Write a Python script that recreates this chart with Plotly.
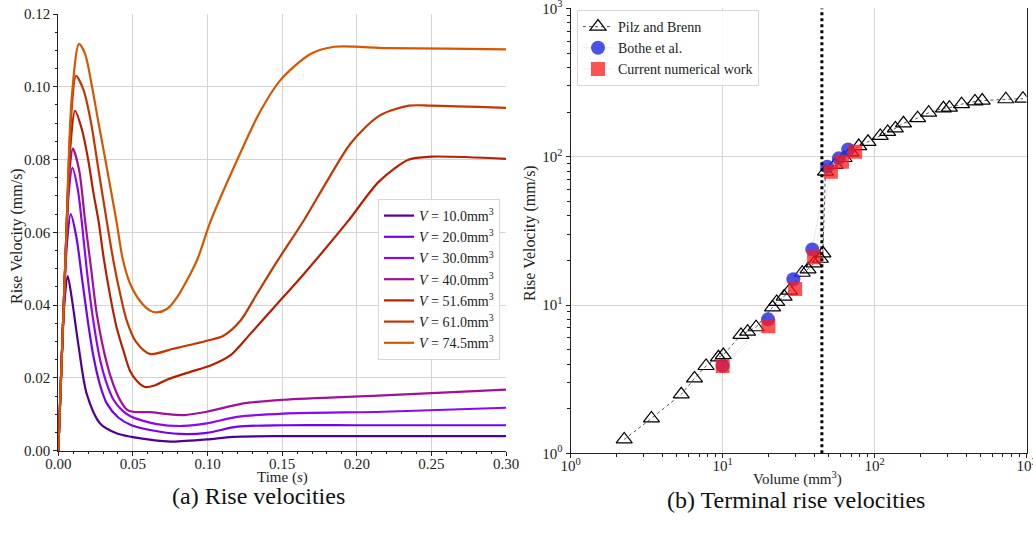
import plotly.graph_objects as go

# ---------------- (a) Rise velocities ----------------
volumes = [10.0, 20.0, 30.0, 40.0, 51.6, 61.0, 74.5]
colors = ["rgb(81,0,150)", "rgb(114,2,243)", "rgb(140,7,243)", "rgb(161,16,150)",
          "rgb(180,32,0)", "rgb(198,55,0)", "rgb(213,87,0)"]

t_10 = [0, 0.002, 0.004, 0.0063, 0.009, 0.0134, 0.019, 0.028, 0.039, 0.049, 0.060, 0.068, 0.077, 0.0996, 0.117, 0.15, 0.20, 0.25, 0.30]
v_10 = [0, 0.022, 0.040, 0.048, 0.042, 0.0293, 0.0157, 0.0075, 0.0048, 0.0038, 0.0031, 0.0027, 0.0025, 0.0031, 0.0038, 0.0040, 0.0040, 0.0040, 0.0040]

t_20 = [0, 0.002, 0.004, 0.006, 0.0083, 0.012, 0.016, 0.020, 0.0235, 0.028, 0.0325, 0.040, 0.049, 0.0615, 0.0817, 0.0996, 0.12, 0.151, 0.20, 0.25, 0.30]
v_20 = [0, 0.022, 0.043, 0.058, 0.065, 0.059, 0.047, 0.035, 0.026, 0.018, 0.013, 0.0092, 0.0070, 0.0057, 0.0046, 0.0049, 0.0066, 0.0070, 0.0070, 0.0070, 0.0070]

t_30 = [0, 0.002, 0.005, 0.007, 0.0094, 0.013, 0.0157, 0.019, 0.023, 0.028, 0.032, 0.037, 0.043, 0.049, 0.066, 0.084, 0.0996, 0.12, 0.151, 0.218, 0.30]
v_30 = [0, 0.022, 0.054, 0.071, 0.0777, 0.072, 0.063, 0.050, 0.037, 0.025, 0.019, 0.014, 0.011, 0.0093, 0.0073, 0.0068, 0.0075, 0.0093, 0.0102, 0.0107, 0.0118]

t_40 = [0, 0.002, 0.005, 0.0075, 0.0098, 0.014, 0.018, 0.022, 0.026, 0.0325, 0.037, 0.0414, 0.046, 0.050, 0.0615, 0.072, 0.084, 0.0996, 0.124, 0.151, 0.218, 0.30]
v_40 = [0, 0.022, 0.055, 0.077, 0.083, 0.077, 0.063, 0.050, 0.037, 0.024, 0.018, 0.0139, 0.0113, 0.0107, 0.0106, 0.0101, 0.0098, 0.0107, 0.0130, 0.0140, 0.0152, 0.0168]

t_52 = [0, 0.002, 0.005, 0.008, 0.0112, 0.016, 0.020, 0.0235, 0.027, 0.0304, 0.035, 0.039, 0.044, 0.048, 0.053, 0.058, 0.065, 0.0728, 0.088, 0.102, 0.115, 0.1287, 0.1466, 0.1644, 0.194, 0.215, 0.235, 0.25, 0.30]
v_52 = [0, 0.022, 0.055, 0.083, 0.0934, 0.088, 0.080, 0.071, 0.063, 0.053, 0.042, 0.034, 0.027, 0.022, 0.019, 0.0175, 0.018, 0.0195, 0.0216, 0.0234, 0.0261, 0.0321, 0.0403, 0.0485, 0.063, 0.074, 0.080, 0.0808, 0.0802]

t_61 = [0, 0.002, 0.005, 0.0085, 0.0119, 0.017, 0.022, 0.027, 0.0325, 0.037, 0.0415, 0.0459, 0.052, 0.0615, 0.077, 0.0996, 0.1107, 0.122, 0.133, 0.1466, 0.1647, 0.18, 0.196, 0.215, 0.235, 0.25, 0.30]
v_61 = [0, 0.022, 0.055, 0.091, 0.103, 0.099, 0.090, 0.077, 0.063, 0.052, 0.043, 0.0357, 0.030, 0.0266, 0.028, 0.0302, 0.0316, 0.0357, 0.043, 0.052, 0.0634, 0.074, 0.0845, 0.092, 0.0948, 0.0948, 0.0942]

t_75 = [0, 0.002, 0.005, 0.009, 0.0139, 0.018, 0.0226, 0.027, 0.0315, 0.039, 0.043, 0.048, 0.055, 0.0615, 0.066, 0.073, 0.080, 0.093, 0.102, 0.12, 0.135, 0.149, 0.169, 0.185, 0.22, 0.26, 0.30]
v_75 = [0, 0.022, 0.055, 0.097, 0.1118, 0.109, 0.100, 0.090, 0.080, 0.063, 0.053, 0.046, 0.041, 0.0385, 0.038, 0.039, 0.0424, 0.0524, 0.063, 0.080, 0.093, 0.1019, 0.109, 0.111, 0.1106, 0.1105, 0.1103]

times = [t_10, t_20, t_30, t_40, t_52, t_61, t_75]
vels = [v_10, v_20, v_30, v_40, v_52, v_61, v_75]

# ---------------- (b) Terminal rise velocities ----------------
pilz_vol = [2.25, 3.40, 5.34, 6.53, 7.78, 9.38, 10.1, 13.2, 14.6, 16.6, 21.3, 22.7, 25.4, 27.5,
            33.4, 36.5, 39.9, 44.0, 45.7, 47.5, 55.0, 63.0, 70.0, 78.7, 90.5, 109, 122, 137, 155,
            192, 227, 284, 311, 374, 458, 511, 731, 948]
pilz_vel = [1.24, 1.72, 2.50, 3.20, 3.88, 4.44, 4.60, 6.28, 6.61, 7.08, 9.65, 10.5, 11.4, 12.5,
            16.5, 17.4, 19.1, 20.5, 22.3, 79.2, 88, 98, 107, 118, 126, 138, 147, 155, 168,
            182, 198, 212, 214, 226, 236, 239, 244, 246]

bothe_vol = [10.0, 19.9, 29.2, 38.9, 48.8, 58.2, 67.0]
bothe_vel = [3.9, 8.0, 14.9, 23.7, 85.7, 97.5, 112]

cur_vol = [10.0, 20.0, 30.0, 40.0, 51.6, 61.0, 74.5]
cur_vel = [3.88, 7.2, 12.8, 21.0, 79.2, 92.5, 108]

transition_vol = 45.0

FONT = "Liberation Serif, serif"
INK = "#222"
fig = go.Figure()

for V, c, t, v in zip(volumes, colors, times, vels):
    fig.add_trace(go.Scatter(
        x=t, y=v, mode="lines", line=dict(color=c, width=2.2, shape="spline", smoothing=0.8),
        name=f"<i>V</i> = {V:.1f}mm<sup>3</sup>", legend="legend", xaxis="x", yaxis="y"))

fig.add_trace(go.Scatter(
    x=pilz_vol, y=pilz_vel, mode="lines+markers", name="Pilz and Brenn",
    line=dict(color="#555555", width=1, dash="dot"),
    marker=dict(symbol="triangle-up-open", size=14, color="black", line=dict(width=1.2, color="black")),
    legend="legend2", xaxis="x2", yaxis="y2"))
fig.add_trace(go.Scatter(
    x=bothe_vol, y=bothe_vel, mode="lines+markers", name="Bothe et al.",
    line=dict(color="rgba(40,50,230,0.12)", width=1),
    marker=dict(symbol="circle", size=14, color="rgba(35,45,225,0.82)", line=dict(width=0)),
    legend="legend2", xaxis="x2", yaxis="y2"))
fig.add_trace(go.Scatter(
    x=cur_vol, y=cur_vel, mode="lines+markers", name="Current numerical work",
    line=dict(color="rgba(255,40,40,0.12)", width=1),
    marker=dict(symbol="square", size=14, color="rgba(255,25,25,0.75)", line=dict(width=0)),
    legend="legend2", xaxis="x2", yaxis="y2"))

fig.add_shape(type="line", xref="x2", yref="y2 domain", x0=transition_vol, x1=transition_vol,
              y0=0, y1=1, line=dict(color="black", width=3, dash="dot"))

W, H = 1033, 538
def px_x(p): return p / W
def px_y(p): return 1 - p / H

axis_common = dict(showline=True, linecolor=INK, linewidth=1.2, ticks="outside", ticklen=4,
                   tickcolor=INK, showgrid=True, gridcolor="#d4d4d4", gridwidth=1,
                   zeroline=False, automargin=False, ticklabeloverflow="allow",
                   tickfont=dict(family=FONT, size=15, color=INK))

minor_log = [m * 10 ** e for e in range(0, 3) for m in range(2, 10)]

fig.update_layout(
    width=W, height=H, margin=dict(l=0, r=0, t=0, b=0, autoexpand=False),
    plot_bgcolor="white", paper_bgcolor="white",
    font=dict(family=FONT, size=15, color=INK),
    xaxis=dict(domain=[px_x(58.3), px_x(506)], range=[0, 0.30], tickvals=[0, 0.05, 0.10, 0.15, 0.20, 0.25, 0.30],
               ticktext=["0.00", "0.05", "0.10", "0.15", "0.20", "0.25", "0.30"],
               minor=dict(dtick=0.01, ticks="outside", ticklen=2.5, tickcolor=INK, showgrid=False),
               ticklabelstandoff=-5, anchor="y", **axis_common),
    yaxis=dict(domain=[px_y(450.7), px_y(14)], range=[0, 0.12], tickvals=[0, 0.02, 0.04, 0.06, 0.08, 0.10, 0.12],
               ticktext=["0.00", "0.02", "0.04", "0.06", "0.08", "0.10", "0.12"],
               minor=dict(dtick=0.005, ticks="outside", ticklen=2.5, tickcolor=INK, showgrid=False),
               anchor="x", **axis_common),
    xaxis2=dict(domain=[px_x(570.7), px_x(1026.5)], type="log", range=[0, 3],
                tickvals=[1, 10, 100, 1000],
                ticktext=["10<sup>0</sup>", "10<sup>1</sup>", "10<sup>2</sup>", "10<sup>3</sup>"],
                minor=dict(tickvals=minor_log, ticks="outside", ticklen=2.5, tickcolor=INK, showgrid=False),
                ticklabelstandoff=-5, anchor="y2", **axis_common),
    yaxis2=dict(domain=[px_y(453.3), px_y(8.4)], type="log", range=[0, 3],
                tickvals=[1, 10, 100, 1000],
                ticktext=["10<sup>0</sup>", "10<sup>1</sup>", "10<sup>2</sup>", "10<sup>3</sup>"],
                minor=dict(tickvals=minor_log, ticks="outside", ticklen=2.5, tickcolor=INK, showgrid=False),
                anchor="x2", mirror=True, **axis_common),
    legend=dict(x=px_x(378), y=px_y(199), xanchor="left", yanchor="top", bgcolor="rgba(255,255,255,0.9)",
                bordercolor="#d8d8d8", borderwidth=1, font=dict(family=FONT, size=14, color=INK),
                itemwidth=30, tracegroupgap=0),
    legend2=dict(x=px_x(577), y=px_y(10), xanchor="left", yanchor="top", bgcolor="rgba(255,255,255,0.9)",
                 bordercolor="#d8d8d8", borderwidth=1, font=dict(family=FONT, size=14, color=INK),
                 itemwidth=30),
    annotations=[
        dict(text="Time (<i>s</i>)", x=px_x(282), y=px_y(477), xref="paper", yref="paper",
             showarrow=False, font=dict(family=FONT, size=15, color=INK), xanchor="center", yanchor="middle"),
        dict(text="Rise Velocity (mm/s)", x=px_x(17), y=px_y(236), xref="paper", yref="paper", textangle=-90,
             showarrow=False, font=dict(family=FONT, size=16, color=INK), xanchor="center", yanchor="middle"),
        dict(text="Volume (mm<sup>3</sup>)", x=px_x(797), y=px_y(478), xref="paper", yref="paper",
             showarrow=False, font=dict(family=FONT, size=15, color=INK), xanchor="center", yanchor="middle"),
        dict(text="Rise Velocity (mm/s)", x=px_x(530), y=px_y(233), xref="paper", yref="paper", textangle=-90,
             showarrow=False, font=dict(family=FONT, size=16, color=INK), xanchor="center", yanchor="middle"),
        dict(text="(a) Rise velocities", x=px_x(258), y=px_y(496), xref="paper", yref="paper",
             showarrow=False, font=dict(family=FONT, size=24, color="#111"), xanchor="center", yanchor="middle"),
        dict(text="(b) Terminal rise velocities", x=px_x(796), y=px_y(500), xref="paper", yref="paper",
             showarrow=False, font=dict(family=FONT, size=24, color="#111"), xanchor="center", yanchor="middle"),
    ],
)

fig.write_html("out.html")
